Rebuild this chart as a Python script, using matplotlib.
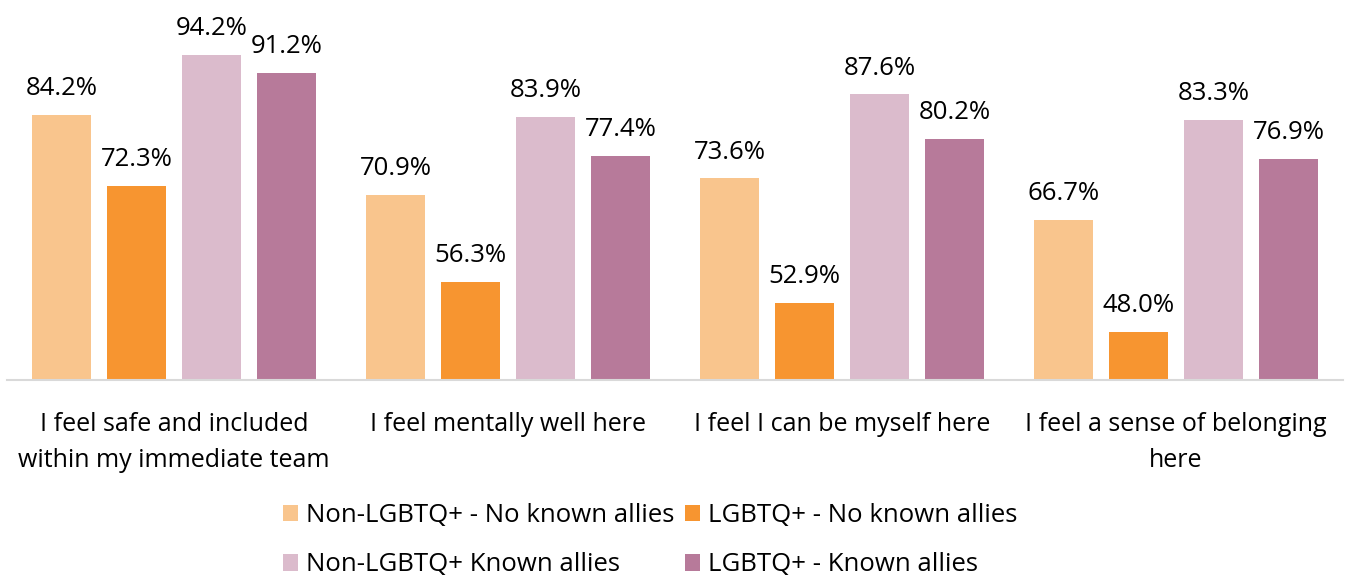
import matplotlib
matplotlib.use("Agg")
import matplotlib.pyplot as plt
import numpy as np

categories = ["I feel safe and included\nwithin my immediate team",
              "I feel mentally well here",
              "I feel I can be myself here",
              "I feel a sense of belonging\nhere"]
series_names = ["Non-LGBTQ+ - No known allies", "LGBTQ+ - No known allies",
                "Non-LGBTQ+ Known allies", "LGBTQ+ - Known allies"]
non_lgbtq_no_allies = [84.2, 70.9, 73.6, 66.7]
lgbtq_no_allies = [72.3, 56.3, 52.9, 48.0]
non_lgbtq_allies = [94.2, 83.9, 87.6, 83.3]
lgbtq_allies = [91.2, 77.4, 80.2, 76.9]
values = [non_lgbtq_no_allies, lgbtq_no_allies, non_lgbtq_allies, lgbtq_allies]
colors = ["#F9C58D", "#F79530", "#DBBBCC", "#B77A9A"]

plt.rcParams['font.family'] = ['Open Sans', 'DejaVu Sans']

fig = plt.figure(figsize=(13.46, 5.76), dpi=100)
ax = fig.add_axes([7/1346, 1-380/576, 1336/1346, 360/576])

x = np.arange(len(categories))
width = 0.177
step = 0.2246
for i, (vals, c, name) in enumerate(zip(values, colors, series_names)):
    pos = x + (i - 1.5) * step
    ax.bar(pos, vals, width=width, color=c, label=name, bottom=0)
    for p, v in zip(pos, vals):
        ax.annotate(f"{v:.1f}%", (p, v), xytext=(0, 10), textcoords="offset points",
                    ha="center", va="bottom", fontsize=18.5, color="#000000")

ax.set_ylim(40, 100)
ax.set_xlim(-0.5, len(categories) - 0.5)
ax.set_yticks([])
ax.set_xticks(x)
ax.set_xticklabels(categories, fontsize=18, linespacing=1.6)
ax.tick_params(axis='x', length=0, pad=23)
for s in ["top", "right", "left"]:
    ax.spines[s].set_visible(False)
ax.spines["bottom"].set_color("#D9D9D9")
ax.spines["bottom"].set_linewidth(1.5)

handles, labels = ax.get_legend_handles_labels()
order = [0, 2, 1, 3]
leg = fig.legend([handles[k] for k in order], [labels[k] for k in order],
                 loc="center", bbox_to_anchor=(0.483, 0.062), ncol=2,
                 frameon=False, fontsize=18.5, handlelength=0.6, handleheight=0.6,
                 handletextpad=0.3, columnspacing=0.4, labelspacing=0.95)

fig.savefig("out.png", dpi=100)
